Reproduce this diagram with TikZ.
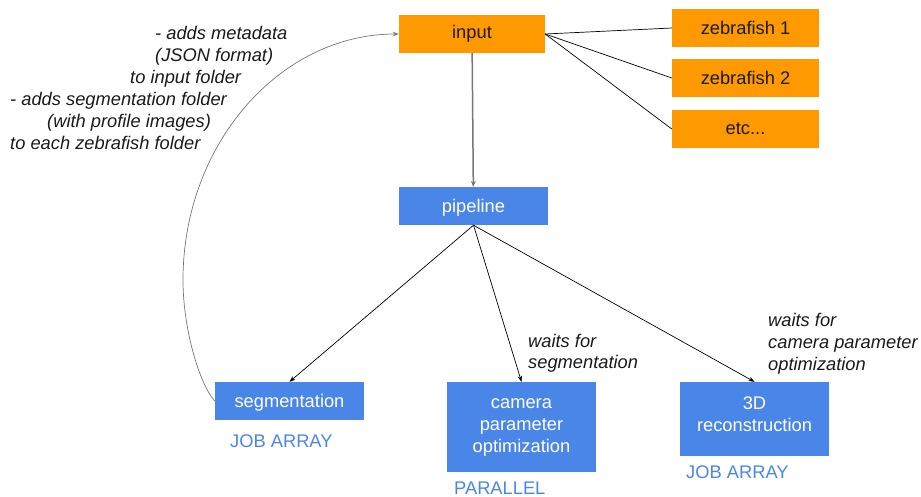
\documentclass[tikz,border=0pt]{standalone}
\usepackage{fontspec}
\setmainfont{Liberation Sans}
\usetikzlibrary{arrows.meta}
\definecolor{boxorange}{HTML}{FF9900}
\definecolor{boxblue}{HTML}{4A86E8}
\definecolor{linkgray}{HTML}{777777}
\definecolor{inktext}{HTML}{1A1A1A}
\begin{document}
\begin{tikzpicture}[x=1pt,y=-1pt,
  basefont/.style={font=\fontsize{18.3}{22}\selectfont},
  orangebox/.style={basefont, fill=boxorange, text=inktext, minimum width=147pt,
    minimum height=38pt, inner sep=0pt},
  bluebox/.style={basefont, fill=boxblue, text=white, minimum width=149pt,
    minimum height=38pt, inner sep=0pt, align=center},
  oneline/.style={text height=17.5pt, text depth=4pt},
  boxtext/.style={basefont, text=white, inner sep=0pt, align=center},
  note/.style={font=\fontsize{18.3}{22}\selectfont\itshape, text=inktext,
    anchor=base west, inner sep=0pt},
  tag/.style={basefont, text=boxblue, anchor=base west, inner sep=0pt},
  tip/.style={-{Stealth[length=6pt,width=4.5pt]}},
  link/.style={draw=black, line width=0.7pt, tip},
  fan/.style={draw=black, line width=0.7pt}]
\useasboundingbox (0,0) rectangle (921,496);

% data folders
\node[orangebox, minimum width=146pt] (input) at (472,34) {input};
\node[orangebox] (zf1) at (745.5,28) {zebrafish 1};
\node[orangebox] (zf2) at (745.5,78) {zebrafish 2};
\node[orangebox] (etc) at (745.5,129) {etc...};

% processing steps
\node[bluebox, oneline] (pipeline) at (473.5,206) {pipeline};
\node[bluebox, oneline] (seg) at (289.5,401) {segmentation};
\node[bluebox, minimum height=90pt] (cam) at (521.5,427)
  {camera\\parameter\\optimization};
\node[bluebox, minimum height=74pt] (rec) at (754.5,419) {};
\node[boxtext] (rectext) at ([yshift=5pt]rec.center) {3D\\reconstruction};

% job types
\node[tag] (tagseg) at (230,447) {JOB ARRAY};
\node[tag] (tagcam) at (454,494) {PARALLEL};
\node[tag] (tagrec) at (686,478) {JOB ARRAY};

% notes on the feedback path
\node[note] (n1) at (155,39) {- adds metadata};
\node[note] (n2) at (155,61) {(JSON format)};
\node[note] (n3) at (130,83) {to input folder};
\node[note] (n4) at (10,105) {- adds segmentation folder};
\node[note] (n5) at (47,127) {(with profile images)};
\node[note] (n6) at (10,149) {to each zebrafish folder};

% dependency notes
\node[note] (w1) at (528,347) {waits for};
\node[note] (w2) at (528,368) {segmentation};
\node[note] (w3) at (768,326) {waits for};
\node[note] (w4) at (768,348) {camera parameter};
\node[note] (w5) at (768,370) {optimization};

% connectors
\draw[fan] (input.east) -- (zf1.west);
\draw[fan] (input.east) -- (zf2.west);
\draw[fan] (input.east) -- (etc.west);
\draw[draw=linkgray, line width=1.5pt, -{Stealth[length=6pt,width=5pt]}]
  (input) -- (pipeline);
\draw[link] (pipeline.south) -- (seg.north);
\draw[link] (pipeline.south) -- (cam.north);
\draw[link] (pipeline.south) -- (rec.north);
\draw[draw=linkgray, line width=0.7pt, tip]
  (seg.west) .. controls (200,385) and (183,330) .. (183,280)
  .. controls (183,144) and (280,34) .. (input.west);
\end{tikzpicture}
\end{document}
